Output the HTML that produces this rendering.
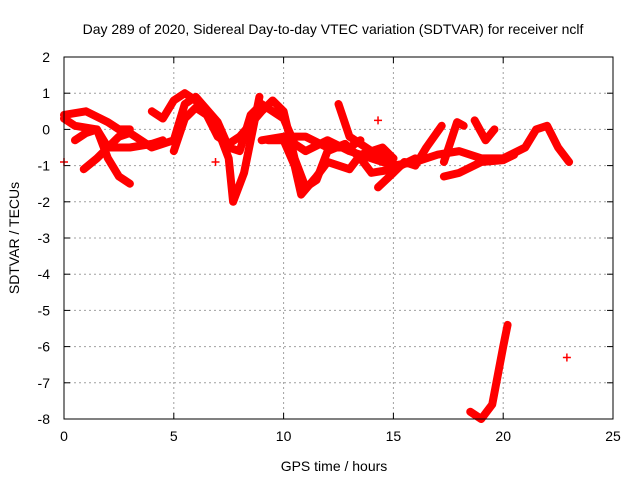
<!DOCTYPE html>
<html><head><meta charset="utf-8"><style>
body{margin:0;background:#fff}
svg{display:block;font-family:"Liberation Sans",sans-serif}
</style></head><body>
<svg id="chart" width="640" height="480" viewBox="0 0 640 480">
<rect width="640" height="480" fill="#fff"/>
<text x="333" y="34" font-size="14" text-anchor="middle">Day 289 of 2020, Sidereal Day-to-day VTEC variation (SDTVAR) for receiver nclf</text>
<text x="334" y="471" font-size="14" text-anchor="middle">GPS time / hours</text>
<text transform="translate(19,238) rotate(-90)" font-size="14" text-anchor="middle">SDTVAR / TECUs</text>
<g id="grid"></g>
<g id="ticks"></g>
<g id="series"></g>
<rect x="64" y="57" width="549" height="362" fill="none" stroke="#000" stroke-width="1"/>
</svg>
<script>
const xTicks=[0,5,10,15,20,25];
const yTicks=[-8,-7,-6,-5,-4,-3,-2,-1,0,1,2];
const t1h=[0,1,2,2.5,3], t1v=[0.4,0.5,0.2,0,0];
const t1bh=[0,0.5,1.5,2,3,4,4.5], t1bv=[0.3,0.1,0,-0.5,-0.5,-0.4,-0.3];
const t2h=[0.5,1,1.5,2,2.5,3], t2v=[-0.3,-0.1,0,-0.8,-1.3,-1.5];
const t3h=[0.9,1.5,2,2.5,3,4,5,5.5,6,7,7.5,8,8.5,9,10,10.5,11,12,13,14,15,16,17,18,19,20,21,21.5,22,22.5,23];
const t3v=[-1.1,-0.8,-0.5,-0.2,-0.1,-0.5,-0.3,0.7,0.9,0.2,-0.5,-0.6,0.4,0.7,0.3,-0.4,-0.6,-0.3,-0.6,-0.8,-1.0,-0.9,-0.7,-0.6,-0.8,-0.8,-0.5,0,0.1,-0.5,-0.9];
const t4h=[4,4.5,5,5.5,6,7,7.5,7.7,8.2,8.6,8.9], t4v=[0.5,0.3,0.8,1.0,0.8,0,-0.8,-2.0,-1.2,0,0.9];
const t5h=[5,5.5,6,6.5,7,7.5,8,9,9.5,10,10.5,11,11.5,12,12.8,13.5,14,15,16];
const t5v=[-0.6,0.3,0.6,0.4,-0.2,-0.4,-0.2,0.5,0.8,0.5,-0.8,-1.6,-1.4,-0.6,-0.4,-0.8,-1.2,-1.1,-0.8];
const t6h=[9.3,10,10.5,10.8,11.5,12,13,13.5,14,15], t6v=[-0.3,-0.3,-1,-1.8,-1.3,-0.9,-1.1,-0.7,-0.6,-0.8];
const t7h=[9,10,11,12,13,13.5], t7v=[-0.3,-0.2,-0.2,-0.5,-0.5,-0.3];
const t8h=[12.5,13,14,14.5,15], t8v=[0.7,-0.2,-0.6,-0.5,-0.8];
const t9h=[14.3,15,15.5,16,16.5,17.2], t9v=[-1.6,-1.2,-0.9,-1.0,-0.5,0.1];
const t10h=[17.3,17.9,18.2], t10v=[-0.9,0.2,0.1];
const t11h=[17.3,18,19,20,20.5], t11v=[-1.3,-1.2,-0.9,-0.85,-0.7];
const t12h=[18.7,19.2,19.6], t12v=[0.25,-0.3,0];
const t13h=[18.5,19,19.5,20,20.2], t13v=[-7.8,-8,-7.6,-6,-5.4];
const ptH=[14.3,22.9,0,6.9], ptV=[0.25,-6.3,-0.9,-0.9];
const tracks=[[t1h,t1v],[t1bh,t1bv],[t2h,t2v],[t3h,t3v],[t4h,t4v],[t5h,t5v],[t6h,t6v],[t7h,t7v],[t8h,t8v],[t9h,t9v],[t10h,t10v],[t11h,t11v],[t12h,t12v],[t13h,t13v]];
const X=h=>64+h*21.96, Y=v=>57+(2-v)*36.2;
const NS="http://www.w3.org/2000/svg";
const grid=document.getElementById('grid'),ticks=document.getElementById('ticks'),ser=document.getElementById('series');
function mk(tag,at,parent){const e=document.createElementNS(NS,tag);for(const k in at)e.setAttribute(k,at[k]);parent.appendChild(e);return e;}
xTicks.forEach(t=>{const x=X(t);
 if(t>0&&t<25){const g=mk('line',{x1:x,x2:x,y1:57,y2:419,stroke:'#a0a0a0','stroke-dasharray':'2,3'},grid);
 
 }
 mk('line',{x1:x,x2:x,y1:419,y2:413,stroke:'#000'},ticks);mk('line',{x1:x,x2:x,y1:57,y2:63,stroke:'#000'},ticks);
 const l=mk('text',{x:x,y:441,'font-size':14,'text-anchor':'middle'},ticks);l.textContent=t;
 
 });
yTicks.forEach(t=>{const y=Y(t);
 if(t>-8&&t<2){const g=mk('line',{x1:64,x2:613,y1:y,y2:y,stroke:'#a0a0a0','stroke-dasharray':'2,3'},grid);
 
 }
 mk('line',{x1:64,x2:70,y1:y,y2:y,stroke:'#000'},ticks);mk('line',{x1:613,x2:607,y1:y,y2:y,stroke:'#000'},ticks);
 const l=mk('text',{x:50,y:y+5,'font-size':14,'text-anchor':'end'},ticks);l.textContent=t;
 
 });
tracks.forEach(([hs,vs])=>{const p=mk('polyline',{points:hs.map((h,i)=>X(h)+','+Y(vs[i])).join(' '),fill:'none',stroke:'#f00','stroke-width':8,'stroke-linejoin':'round','stroke-linecap':'round'},ser);
 
 });
ptH.forEach((h,i)=>{const x=X(h),y=Y(ptV[i]);const p=mk('path',{d:`M${x-4},${y}h8M${x},${y-4}v8`,stroke:'#f00','stroke-width':1.5},ser);
 
 });
</script>
</body></html>
